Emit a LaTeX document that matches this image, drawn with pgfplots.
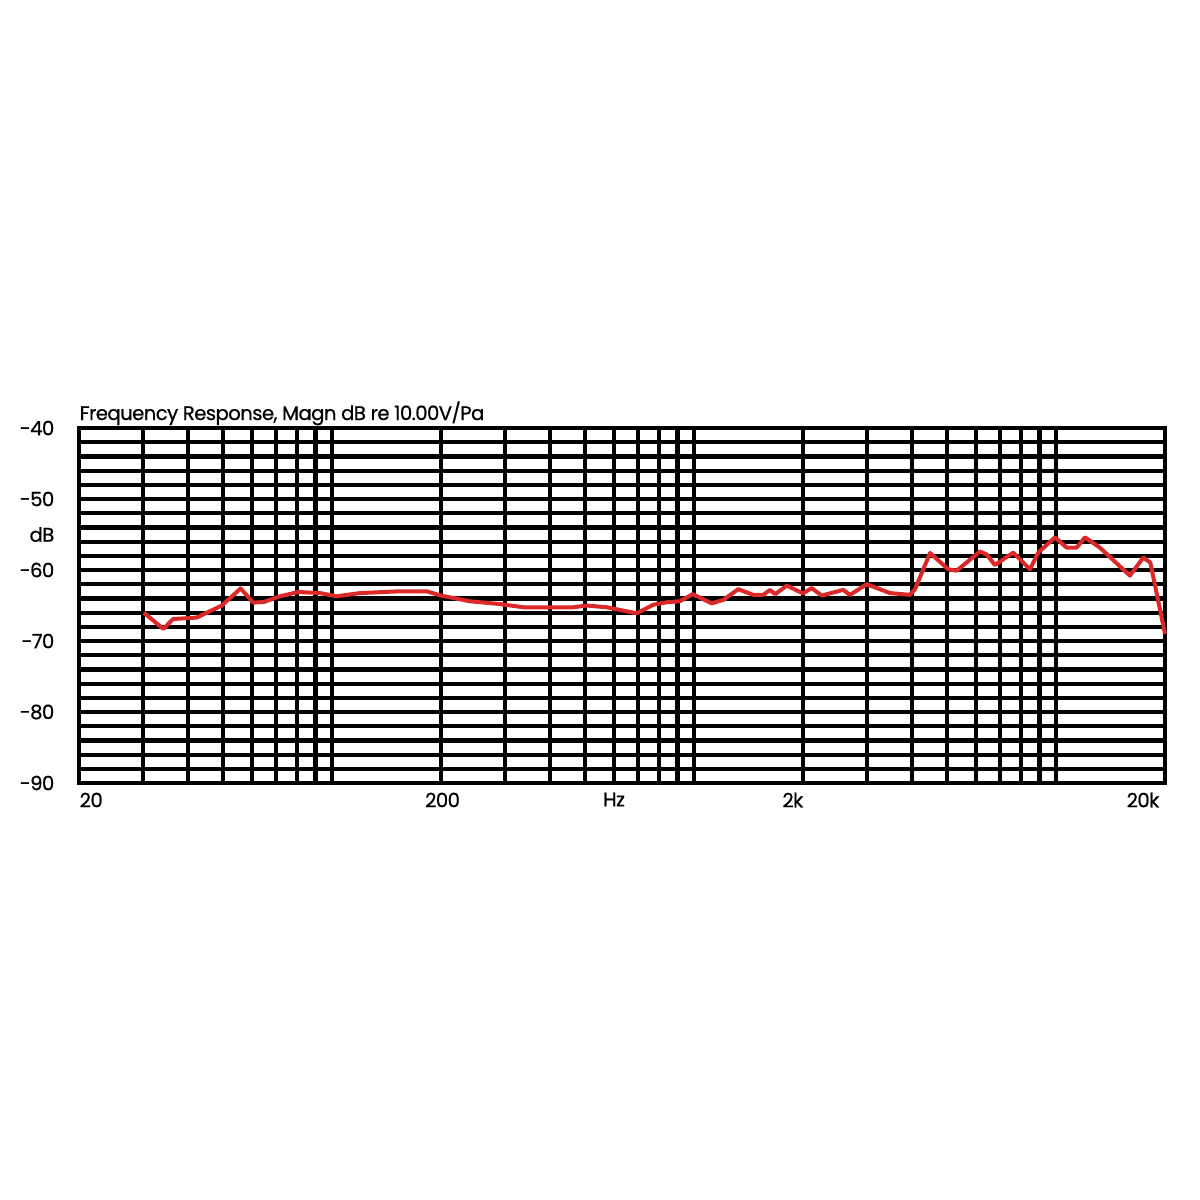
\documentclass[border=0pt]{standalone}
\usepackage{fontspec}
\setmainfont{Poppins}[LetterSpace=-3, FakeBold=0.6]
\usepackage{pgfplots}
\pgfplotsset{compat=1.18}

\definecolor{curvered}{RGB}{220,40,40}

\begin{document}
\begin{tikzpicture}
\fontsize{5.6}{6.5}\selectfont
\path[use as bounding box] (0,0) rectangle (120mm,120mm);
\begin{axis}[
    at={(7.9mm,41.7mm)}, anchor=south west,
    scale only axis,
    width=108.6mm, height=35.5mm,
    xmode=log,
    xmin=20, xmax=20000,
    ymin=-90, ymax=-40,
    ytick={-90,-80,-70,-60,-50,-40},
    yticklabels={{-90},{-80},{-70},{-60},{-50},{-40}},
    extra y ticks={-55},
    extra y tick labels={dB},
    extra y tick style={grid=none},
    minor y tick num=4,
    xticklabels={},
    grid=both,
    major grid style={black, line width=0.42mm},
    minor grid style={black, line width=0.42mm},
    axis line style={black, line width=0.48mm},
    tick style={draw=none},
    yticklabel style={anchor=east, inner sep=0pt, xshift=-2.4mm},
    clip=false,
]
\addplot[curvered, line width=0.4mm, line join=round] coordinates {
    (30.2,-66.0) (34.2,-68.3) (36.4,-66.9) (42.3,-66.7) (49.6,-65.0)
    (55.9,-62.6) (60.6,-64.6) (64.9,-64.5) (71.8,-63.7) (80.7,-63.1)
    (92.6,-63.25) (103,-63.7) (119.5,-63.25) (154,-63.0) (182.6,-63.0)
    (200,-63.6) (240,-64.4) (291,-64.8) (338,-65.25) (464,-65.25)
    (505,-65.0) (574,-65.25) (694,-66.1) (772,-64.9) (840,-64.55)
    (914,-64.4) (991,-63.4) (1119,-64.7) (1205,-64.2) (1325,-62.7)
    (1458,-63.5) (1553,-63.5) (1622,-62.8) (1676,-63.4) (1804,-62.2)
    (2000,-63.3) (2113,-62.55) (2253,-63.6) (2582,-62.8) (2697,-63.5)
    (2999,-62.0) (3478,-63.25) (3951,-63.5) (4077,-62.7) (4488,-57.6)
    (5040,-59.9) (5314,-60.1) (6165,-57.4) (6430,-57.8) (6776,-59.3)
    (7617,-57.55) (8470,-59.9) (8930,-57.55) (9934,-55.4) (10700,-56.85)
    (11400,-56.85) (12020,-55.4) (13220,-56.85) (16000,-60.8) (17420,-58.25)
    (18220,-58.95) (20000,-69.0)
};
% title and frequency labels
\node[anchor=base west, inner sep=0pt] at ([yshift=0.8mm]axis cs:20,-40)
    {Frequency Response, Magn dB re 10.00V/Pa};
\node[anchor=north west, inner sep=0pt] at ([yshift=-0.9mm]axis cs:20,-90) {20};
\node[anchor=north, inner sep=0pt] at ([yshift=-0.9mm]axis cs:202,-90) {200};
\node[anchor=north, inner sep=0pt] at ([yshift=-0.9mm]axis cs:601,-90) {Hz};
\node[anchor=north, inner sep=0pt] at ([yshift=-0.9mm]axis cs:1875,-90) {2k};
\node[anchor=north east, inner sep=0pt] at ([xshift=-0.5mm,yshift=-0.9mm]axis cs:20000,-90) {20k};
\end{axis}
\end{tikzpicture}
\end{document}
